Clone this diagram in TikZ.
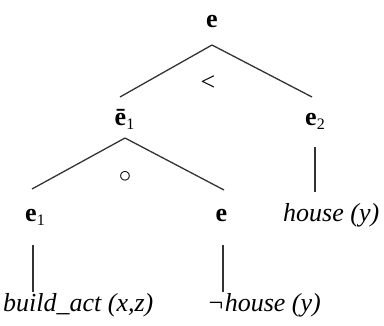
\documentclass[tikz,border=0pt]{standalone}
\usepackage{fontspec}
\setmainfont{Liberation Serif}
\newcommand{\sbs}[1]{\rlap{\raisebox{-4pt}{\fontsize{16}{16}\selectfont #1}}}
\begin{document}
\begin{tikzpicture}[x=1pt,y=1pt,
  lab/.style={inner sep=0pt,anchor=base,font=\fontsize{26}{30}\selectfont\bfseries},
  txt/.style={inner sep=0pt,anchor=base west,font=\fontsize{26}{30}\selectfont\itshape},
  op/.style={inner sep=0pt,font=\fontsize{26}{30}\selectfont},
  edge/.style={line width=1.3pt,black!80}]
\useasboundingbox (0,0) rectangle (384,325);
\node[lab] (e0) at (212,298) {e};
\node[lab] (eb) at (120.5,200) {ē\sbs{\mdseries 1}};
\node[lab] (e2) at (311,200) {e\sbs{\mdseries 2}};
\node[lab] (e1) at (31,103) {e\sbs{\mdseries 1}};
\node[lab] (e3) at (221.5,103) {e};
\node[txt] (house) at (283,103) {house (y)};
\node[txt] (build) at (3,13) {build\_act (x,z)};
\node[txt] (nhouse) at (207,13) {¬house (y)};
\node[op] (lt) at (208,242) {<};
\node[op] (circ) at (125,148) {$\circ$};
\draw[edge] ([yshift=-18pt]e0.base) -- ([shift={(-0.5,28)}]eb.base);
\draw[edge] ([yshift=-18pt]e0.base) -- ([shift={(1,28)}]e2.base);
\draw[edge] ([shift={(4.5,-13)}]eb.base) -- ([shift={(1,33)}]e1.base);
\draw[edge] ([shift={(4.5,-13)}]eb.base) -- ([shift={(2.5,32)}]e3.base);
\draw[edge] ([shift={(4,-22)}]e2.base) -- ([shift={(32,30)}]house.base west);
\draw[edge] ([shift={(2,-23)}]e1.base) -- ([shift={(30,20)}]build.base west);
\draw[edge] ([shift={(1.5,-23)}]e3.base) -- ([shift={(16,20)}]nhouse.base west);
\end{tikzpicture}
\end{document}
